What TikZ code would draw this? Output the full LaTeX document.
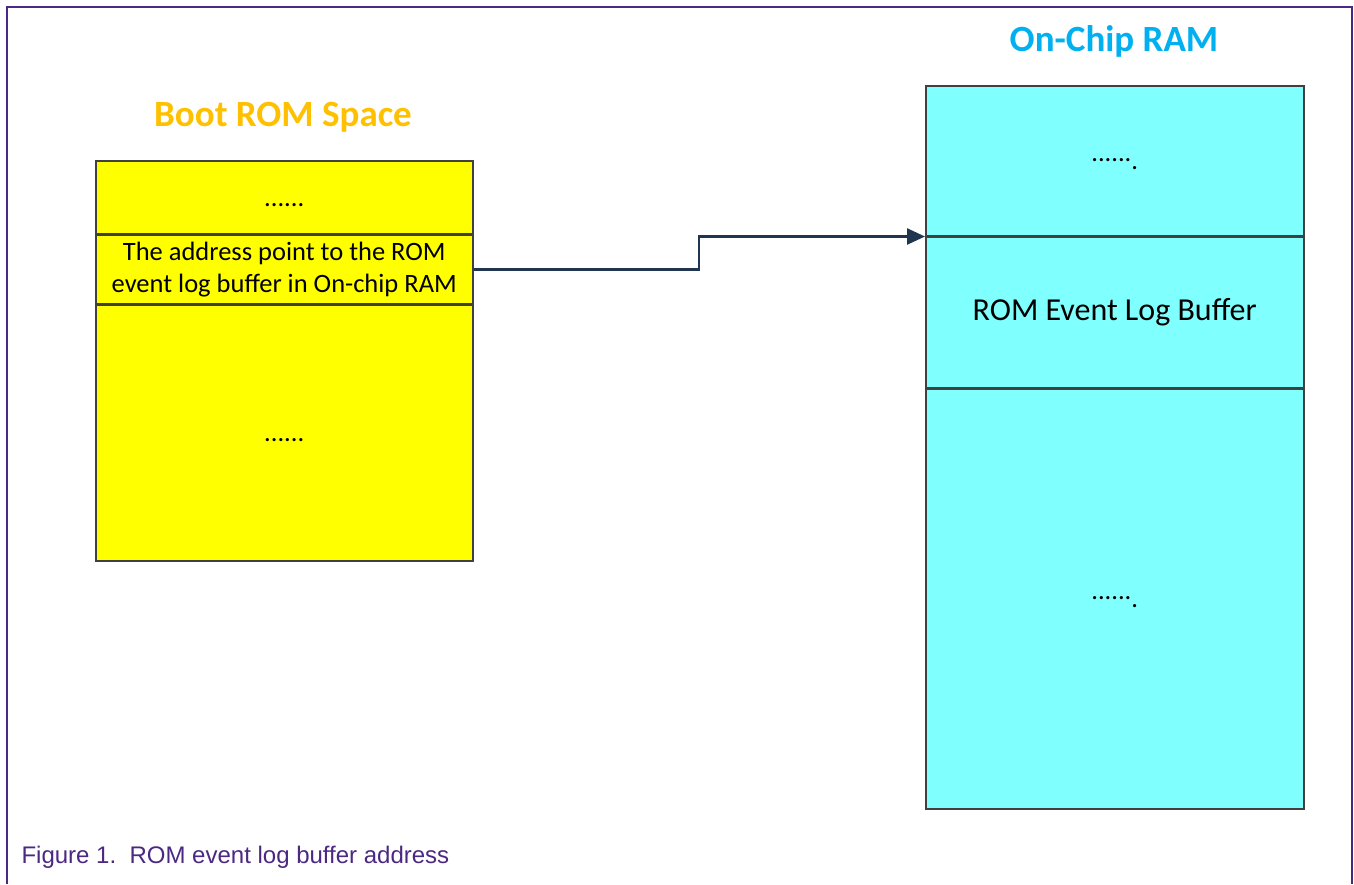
\documentclass[tikz,border=0pt]{standalone}
\usepackage{fontspec}
\setmainfont{Carlito}
\newfontfamily\capfont{Liberation Sans}
\usetikzlibrary{positioning,arrows.meta}
\definecolor{romyellow}{HTML}{FFFF00}
\definecolor{ramcyan}{HTML}{80FFFF}
\definecolor{romtitle}{HTML}{FFC000}
\definecolor{ramtitle}{HTML}{00B0F0}
\definecolor{framepurple}{HTML}{4B2882}
\definecolor{linknavy}{HTML}{1F3550}

\begin{document}
\begin{tikzpicture}[x=1pt,y=-1pt,
    cell/.style={draw=black!75,line width=1.5pt,inner sep=0pt,align=center,
      font=\fontsize{26.5}{32}\selectfont},
    romcell/.style={cell,fill=romyellow,minimum width=377pt},
    ramcell/.style={cell,fill=ramcyan,minimum width=378pt},
    dots/.style={text height=18pt},
    title/.style={font=\fontsize{37}{42}\selectfont\bfseries}]
  \useasboundingbox (0,0) rectangle (1354,884);
  \draw[framepurple,line width=2.5pt] (7,884) -- (7,7) -- (1352,7) -- (1352,884);

  % boot rom stack
  \node[title,text=romtitle] (romhead) at (283,117) {Boot ROM Space};
  \node[romcell,dots,minimum height=73pt,anchor=north west] (romtop) at (95,160) {......};
  \node[romcell,minimum height=68pt,below=0pt of romtop] (romaddr)
    {The address point to the ROM\\event log buffer in On-chip RAM};
  \node[romcell,dots,minimum height=256pt,below=0pt of romaddr] (romrest) {......};

  % on-chip ram stack
  \node[title,text=ramtitle] (ramhead) at (1114,41) {On-Chip RAM};
  \node[ramcell,dots,minimum height=150pt,anchor=north west] (ramtop) at (925,85)
    {\raisebox{8pt}{......}.};
  \node[ramcell,minimum height=150pt,below=0pt of ramtop,font=\fontsize{32}{38}\selectfont]
    (rambuf) {ROM Event Log Buffer};
  \node[ramcell,dots,minimum height=420pt,below=0pt of rambuf] (ramrest)
    {\raisebox{8pt}{......}.};

  \coordinate (bend) at (699,0);
  \draw[linknavy,line width=2.5pt,-{Triangle[length=18pt,width=16pt]}]
    (romaddr.east) -- (romaddr.east -| bend) |- (rambuf.north west);

  \node[anchor=west,text=framepurple,font=\capfont\fontsize{24}{28}\selectfont] (caption)
    at (18,857) {Figure 1.\ \ ROM event log buffer address};
\end{tikzpicture}
\end{document}
